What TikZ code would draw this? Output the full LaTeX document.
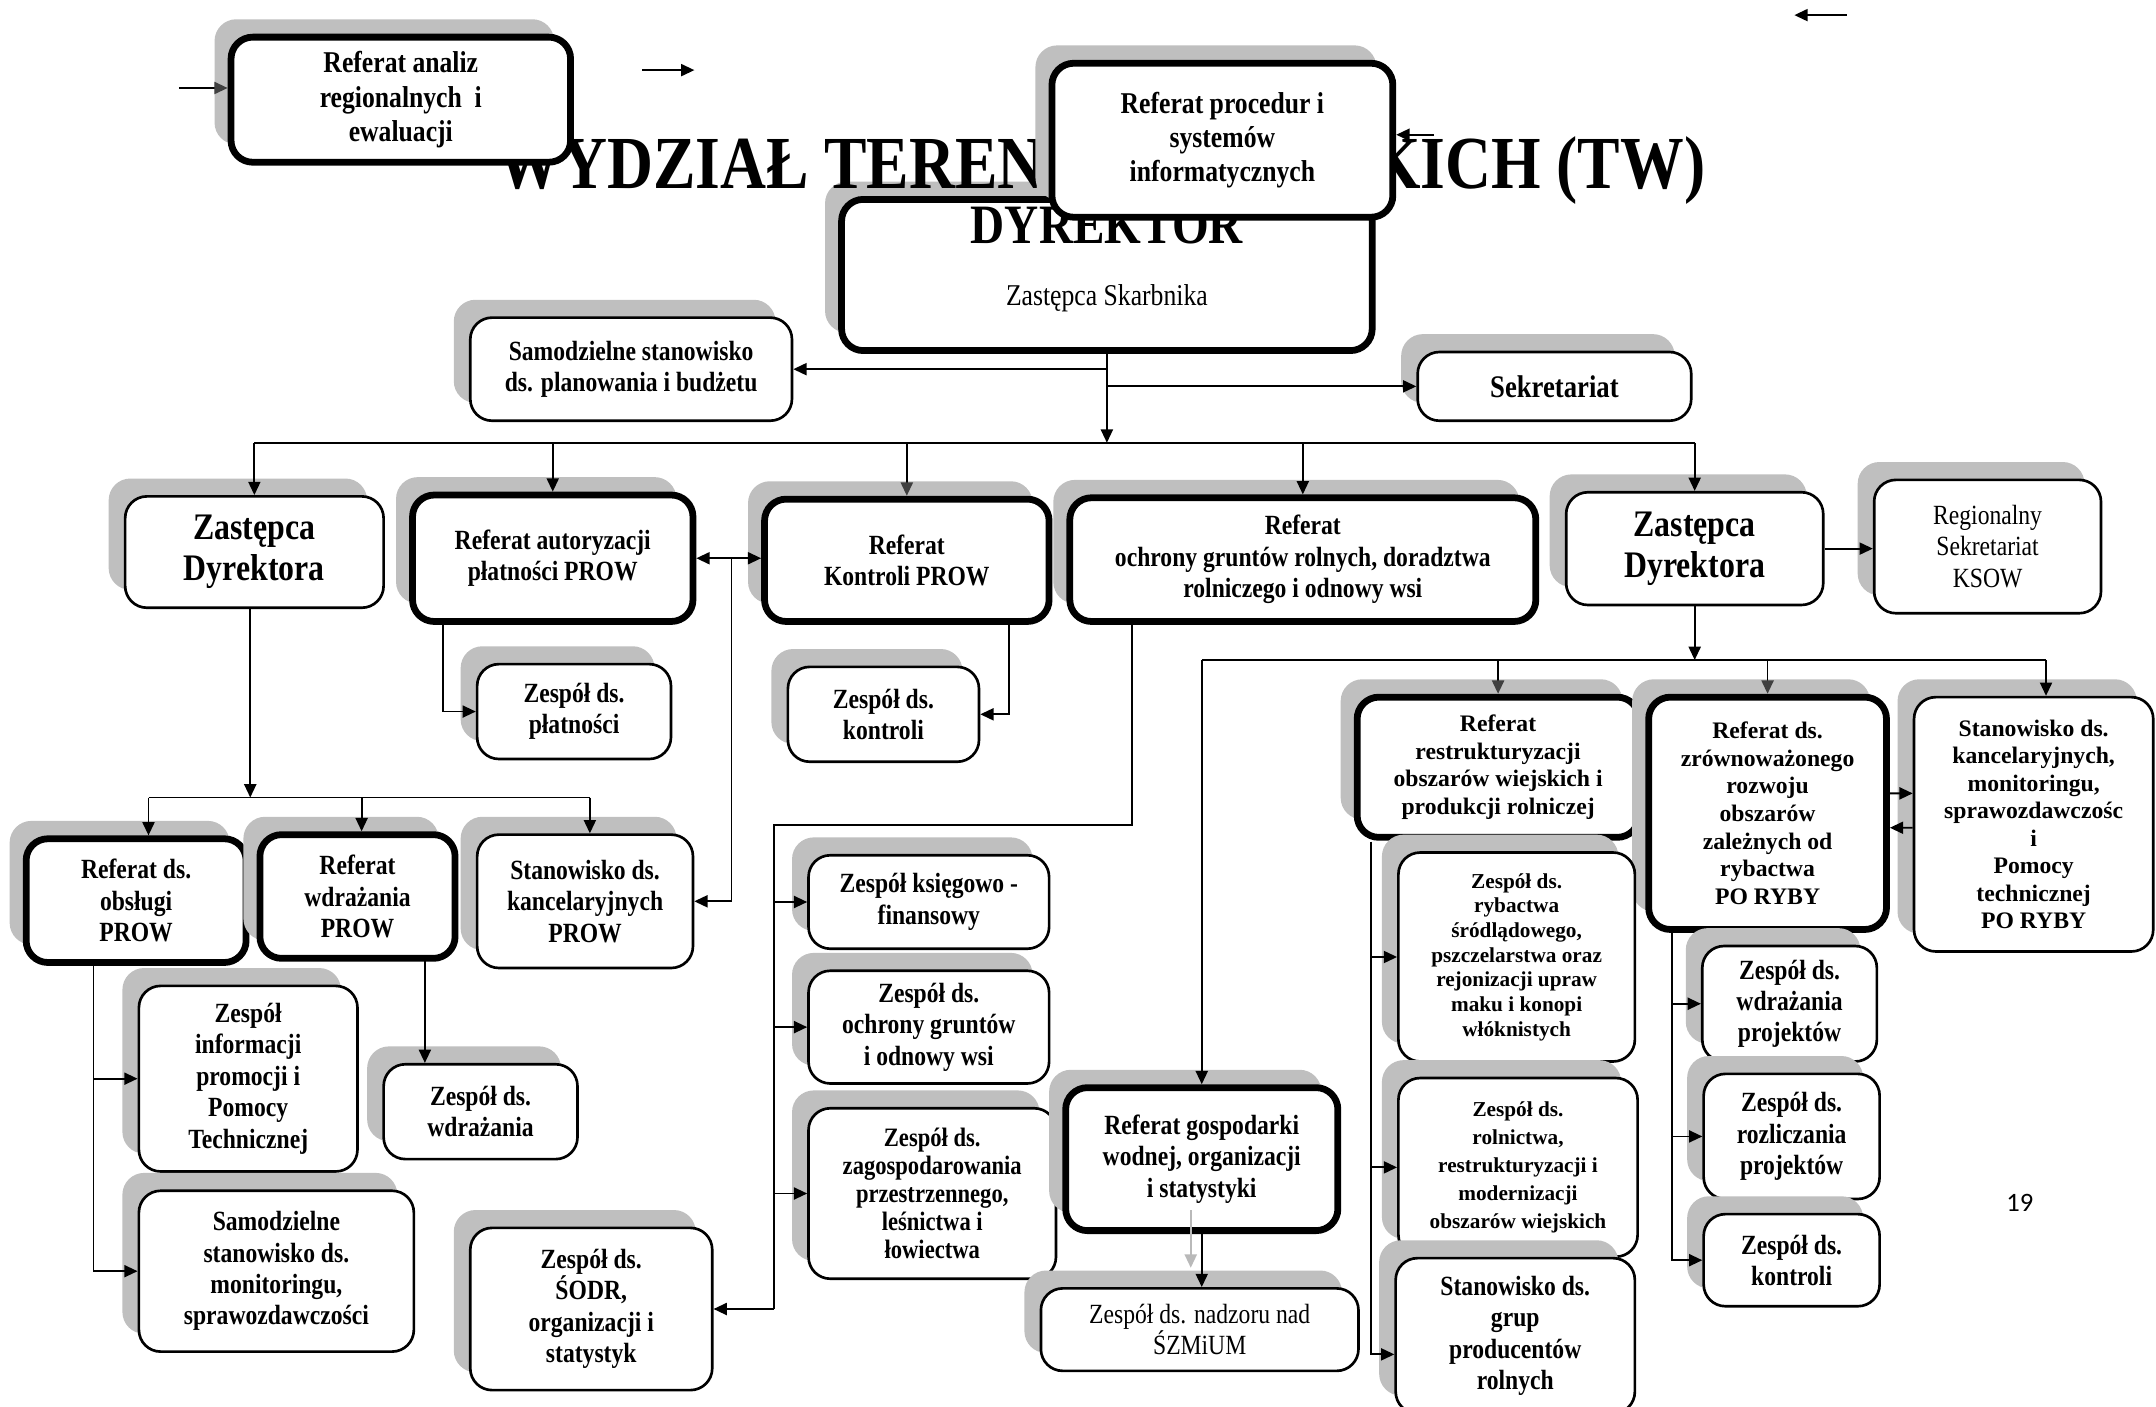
\documentclass[tikz,border=0pt]{standalone}
\usepackage{fontspec}
\setmainfont{Liberation Serif}
\newfontfamily\condf[FakeStretch=0.85]{Liberation Serif}
\newfontfamily\pagef{Carlito}
\usetikzlibrary{arrows.meta,shadows}
\definecolor{shadowgray}{RGB}{191,191,191}
\definecolor{tipgray}{RGB}{64,64,64}
\definecolor{ghostgray}{RGB}{185,185,185}

\begin{document}
\begin{tikzpicture}[x = 0.02cm, y = -0.02cm,
        box/.style = {draw, fill = white, rounded corners = 9pt, line width = 1.1pt, inner sep = 0pt, align = center,
            drop shadow = {shadow xshift = -0.24cm, shadow yshift = 0.26cm, fill = shadowgray, opacity = 1}},
        boxthick/.style = {box, line width = 2.8pt},
        ln/.style = {line width = 0.75pt},
        conn/.style = {ln, -{Triangle[length = 5.5pt, width = 5pt]}},
        conngray/.style = {ln, -{Triangle[length = 5.5pt, width = 5pt, color = tipgray]}},
        dconn/.style = {ln, {Triangle[length = 5.5pt, width = 5pt]}-{Triangle[length = 5.5pt, width = 5pt]}},
        fa/.style = {font = \condf\bfseries\fontsize{12.5}{14.2}\selectfont},
        fb/.style = {font = \condf\bfseries\fontsize{11.5}{13}\selectfont},
        fz/.style = {font = \condf\bfseries\fontsize{15.5}{17}\selectfont},
        fr/.style = {font = \condf\fontsize{11.5}{13}\selectfont},
        fn/.style = {font = \bfseries\fontsize{9.8}{11.4}\selectfont},
        fs/.style = {font = \bfseries\fontsize{8.8}{10.2}\selectfont}]
    \useasboundingbox (0,0) rectangle (1568,1023);

    \node[boxthick, minimum width = 7.72cm, minimum height = 2.2cm] (dyr) at (805,200) {};
    \node[font = \condf\bfseries\fontsize{31}{31}\selectfont, anchor = base] (tytul) at (801,137) {WYDZIAŁ TERENÓW WIEJSKICH (TW)};
    \node[font = \condf\bfseries\fontsize{23}{23}\selectfont, anchor = base] (dyrtitle) at (805,177) {DYREKTOR};
    \node[font = \condf\fontsize{12.5}{14}\selectfont] (dyrsub) at (805,217) {Zastępca Skarbnika};

    \node[boxthick, fa, minimum width = 4.94cm, minimum height = 1.82cm] (analiz) at (291.5,72.5) {Referat analiz\\regionalnych\ \ i\\ewaluacji};
    \node[boxthick, fa, minimum width = 4.96cm, minimum height = 2.24cm] (proced) at (889,102) {Referat procedur i\\systemów\\informatycznych};

    \node[box, fb, minimum width = 4.68cm, minimum height = 1.5cm] (planbud) at (459,268.5) {Samodzielne stanowisko\\ds. planowania i budżetu};
    \node[box, font = \condf\bfseries\fontsize{13}{15}\selectfont, minimum width = 3.98cm, minimum height = 1cm] (sekr) at (1130.5,281) {Sekretariat};

    \node[box, fz, minimum width = 3.76cm, minimum height = 1.62cm] (zastL) at (185,401.5) {Zastępca\\Dyrektora};
    \node[boxthick, fb, minimum width = 4.08cm, minimum height = 1.84cm] (autor) at (402,406) {Referat autoryzacji\\płatności PROW};
    \node[boxthick, fb, minimum width = 4.14cm, minimum height = 1.78cm] (kontrP) at (659.5,407.5) {Referat\\Kontroli PROW};
    \node[boxthick, fb, minimum width = 6.78cm, minimum height = 1.8cm] (ochrona) at (947.5,407) {Referat\\ochrony gruntów rolnych, doradztwa\\rolniczego i odnowy wsi};
    \node[box, fz, minimum width = 3.74cm, minimum height = 1.64cm] (zastR) at (1232.5,399) {Zastępca\\Dyrektora};
    \node[box, fr, minimum width = 3.3cm, minimum height = 1.94cm] (ksow) at (1445.5,397.5) {Regionalny\\Sekretariat\\KSOW};

    \node[box, fb, minimum width = 2.82cm, minimum height = 1.38cm] (platn) at (417.5,517.5) {Zespół ds.\\płatności};
    \node[box, fb, minimum width = 2.78cm, minimum height = 1.38cm] (zkontr) at (642.5,519.5) {Zespół ds.\\kontroli};

    \node[boxthick, fb, minimum width = 3.2cm, minimum height = 1.8cm] (obsl) at (99,655) {Referat ds.\\obsługi\\PROW};
    \node[boxthick, fb, minimum width = 2.84cm, minimum height = 1.8cm] (wdroz) at (260,652) {Referat\\wdrażania\\PROW};
    \node[box, fb, minimum width = 3.14cm, minimum height = 1.94cm] (kancP) at (425.5,655.5) {Stanowisko ds.\\kancelaryjnych\\PROW};
    \node[box, fb, minimum width = 3.18cm, minimum height = 2.7cm] (inform) at (180.5,784.5) {Zespół\\informacji\\promocji i\\Pomocy\\Technicznej};
    \node[box, fb, minimum width = 2.82cm, minimum height = 1.38cm] (zwdr) at (349.5,808.5) {Zespół ds.\\wdrażania};
    \node[box, fb, minimum width = 4cm, minimum height = 2.34cm] (monit) at (201,924.5) {Samodzielne\\stanowisko ds.\\monitoringu,\\sprawozdawczości};
    \node[box, fb, minimum width = 3.52cm, minimum height = 2.36cm] (sodr) at (430,952) {Zespół ds.\\ŚODR,\\organizacji i\\statystyk};

    \node[box, fb, minimum width = 3.5cm, minimum height = 1.36cm] (ksieg) at (675.5,656) {Zespół księgowo -\\finansowy};
    \node[box, fb, minimum width = 3.5cm, minimum height = 1.64cm] (zochr) at (675.5,747) {Zespół ds.\\ochrony gruntów\\i odnowy wsi};
    \node[box, font = \condf\bfseries\fontsize{11}{11.6}\selectfont, minimum width = 3.6cm, minimum height = 2.48cm] (zagosp) at (678,868) {Zespół ds.\\zagospodarowania\\przestrzennego,\\leśnictwa i\\łowiectwa};
    \node[boxthick, fb, minimum width = 3.96cm, minimum height = 2.08cm] (gosp) at (874,843) {Referat gospodarki\\wodnej, organizacji\\i statystyki};
    \node[box, fr, minimum width = 4.62cm, minimum height = 1.2cm] (nadz) at (872.5,967) {Zespół ds. nadzoru nad\\ŚZMiUM};

    \node[boxthick, fn, minimum width = 4.1cm, minimum height = 2.04cm] (restr) at (1089.5,558) {Referat\\restrukturyzacji\\obszarów wiejskich i\\produkcji rolniczej};
    \node[boxthick, fn, minimum width = 3.46cm, minimum height = 3.38cm] (ryby) at (1285.5,591.5) {Referat ds.\\zrównoważonego\\rozwoju\\obszarów\\zależnych od\\rybactwa\\PO RYBY};
    \node[box, fn, minimum width = 3.48cm, minimum height = 3.7cm] (kancR) at (1479,599.5) {Stanowisko ds.\\kancelaryjnych,\\monitoringu,\\sprawozdawczośc\\i\\Pomocy\\technicznej\\PO RYBY};
    \node[box, fs, minimum width = 3.44cm, minimum height = 3.04cm] (rybact) at (1103,696) {Zespół ds.\\rybactwa\\śródlądowego,\\pszczelarstwa oraz\\rejonizacji upraw\\maku i konopi\\włóknistych};
    \node[box, font = \bfseries\fontsize{8.8}{11.6}\selectfont, minimum width = 3.48cm, minimum height = 2.6cm] (rolnic) at (1104,849) {Zespół ds.\\rolnictwa,\\restrukturyzacji i\\modernizacji\\obszarów wiejskich};
    \node[box, fb, minimum width = 3.48cm, minimum height = 2.26cm] (grupy) at (1102,971.5) {Stanowisko ds.\\grup\\producentów\\rolnych};
    \node[box, fb, minimum width = 2.54cm, minimum height = 1.68cm] (wdrproj) at (1301.5,730) {Zespół ds.\\wdrażania\\projektów};
    \node[box, fb, minimum width = 2.56cm, minimum height = 1.82cm] (rozl) at (1303,826.5) {Zespół ds.\\rozliczania\\projektów};
    \node[box, fb, minimum width = 2.56cm, minimum height = 1.34cm] (kontrR) at (1303,916.5) {Zespół ds.\\kontroli};

    \node[font = \pagef\fontsize{11}{11}\selectfont] (strona) at (1469,875) {19};

    \coordinate (busT) at (805,322);
    \draw[conn] (dyr.south) -- (busT);
    \draw[conn] (dyr.south |- planbud.east) -- (planbud.east);
    \draw[conn] (dyr.south |- sekr.west) -- (sekr.west);
    \draw[ln] (zastL.north |- busT) -- (zastR.north |- busT);
    \foreach \n in {zastL, autor, ochrona, zastR}
        \draw[conn] (\n.north |- busT) -- (\n.north);
    \draw[conngray] (kontrP.north |- busT) -- (kontrP.north);

    \coordinate (busL) at (182,580);
    \coordinate (jObs) at (108,580);
    \coordinate (jWdr) at (263,580);
    \coordinate (jKanc) at (429,580);
    \draw[conn] (zastL.south -| busL) -- (busL);
    \draw[ln] (jObs) -- (jKanc);
    \draw[conn] (jObs) -- (jObs |- obsl.north);
    \draw[conn] (jWdr) -- (jWdr |- wdroz.north);
    \draw[conn] (jKanc) -- (jKanc |- kancP.north);

    \draw[dconn] (autor.east) -- (autor.east -| kontrP.west);
    \coordinate (jAK) at (532,406);
    \draw[conn] (jAK) |- (kancP.east);
    \coordinate (jPl) at (322,452);
    \draw[conn] (jPl) |- (platn.west);
    \coordinate (jKo) at (734,452);
    \draw[conn] (jKo) |- (zkontr.east);

    \coordinate (jOc) at (823,452);
    \coordinate (jOch) at (563,600);
    \coordinate (jSodr) at (563,952);
    \draw[ln] (jOc) |- (jOch) -- (jSodr);
    \draw[conn] (jSodr) -- (sodr.east);
    \foreach \n in {ksieg, zochr, zagosp}
        \draw[conn] (jOch |- \n.west) -- (\n.west);

    \coordinate (jInf) at (68,700);
    \draw[conn] (jInf) |- (monit.west);
    \draw[conn] (jInf |- inform.west) -- (inform.west);
    \coordinate (jWz) at (309,697);
    \draw[conn] (jWz) -- (jWz |- zwdr.north);

    \draw[conn] (zastR.east) -- (zastR.east -| ksow.west);
    \coordinate (jGosp) at (874,480);
    \coordinate (jKancR) at (1488,480);
    \draw[ln] (jGosp) -- (jKancR);
    \draw[conn] (zastR.south) -- (zastR.south |- jGosp);
    \draw[conn] (jGosp) -- (gosp.north);
    \draw[conngray] (restr.north |- jGosp) -- (restr.north);
    \draw[conngray] (ryby.north |- jGosp) -- (ryby.north);
    \draw[conn] (jKancR) -- (jKancR |- kancR.north);

    \draw[conn] (gosp.south) -- (gosp.south |- nadz.north);
    \coordinate (ghA) at (866,880);
    \coordinate (ghB) at (866,922);
    \draw[conn, ghostgray] (ghA) -- (ghB);

    \coordinate (jRe) at (997,612);
    \draw[conn] (jRe) |- ([yshift = -0.27cm]grupy.west);
    \foreach \n in {rybact, rolnic}
        \draw[conn] (jRe |- \n.west) -- (\n.west);
    \coordinate (jRy) at (1216,676);
    \draw[conn] (jRy) |- (kontrR.west);
    \foreach \n in {wdrproj, rozl}
        \draw[conn] (jRy |- \n.west) -- (\n.west);
    \draw[conn] ([yshift = 0.29cm]ryby.east) -- ([yshift = 0.45cm]kancR.west);
    \draw[conn] ([yshift = -0.05cm]kancR.west) -- ([yshift = -0.21cm]ryby.east);

    \coordinate (inA) at (130,64);
    \draw[conngray] (inA) -- (inA -| analiz.west);
    \coordinate (s1a) at (467,51);
    \coordinate (s1b) at (505,51);
    \draw[conn] (s1a) -- (s1b);
    \coordinate (s2a) at (1343,11);
    \coordinate (s2b) at (1305,11);
    \draw[conn] (s2a) -- (s2b);
    \coordinate (s3a) at (1043,98);
    \draw[conn] (s3a) -- (s3a -| proced.east);
\end{tikzpicture}
\end{document}
